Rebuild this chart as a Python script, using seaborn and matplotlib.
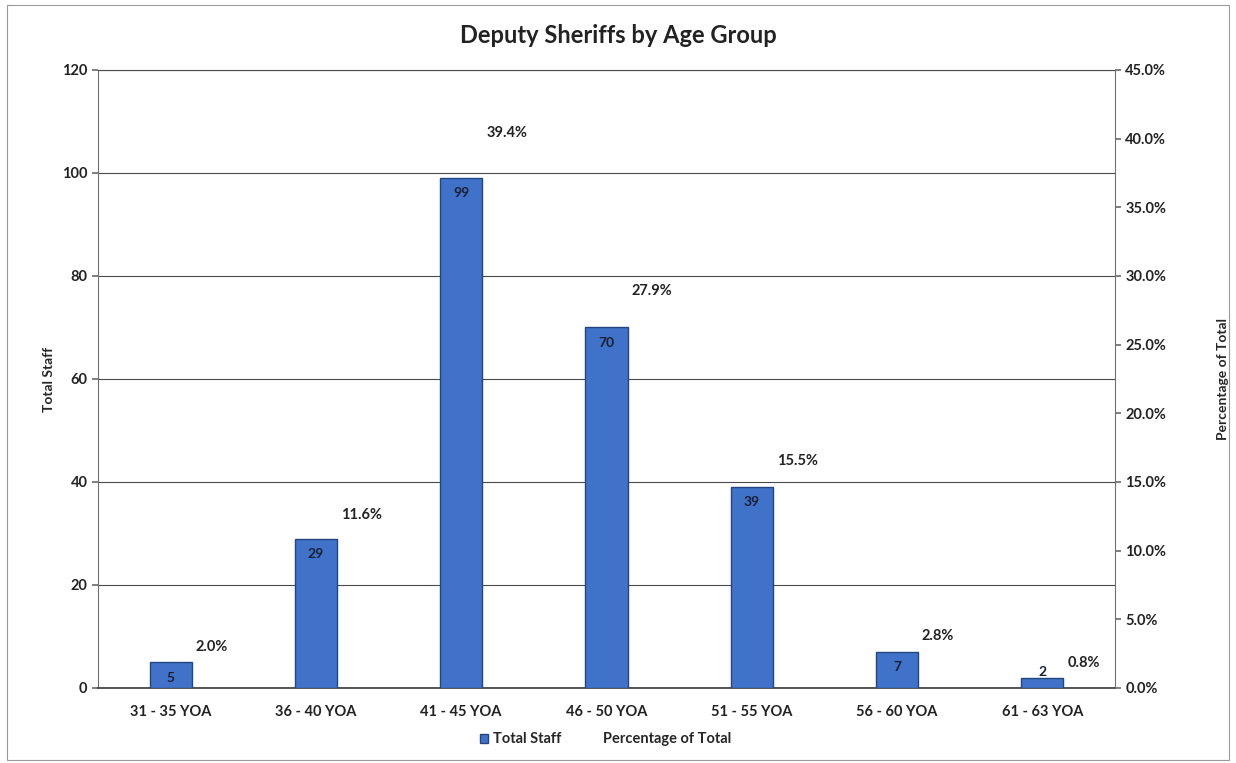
import seaborn as sns
import matplotlib.pyplot as plt
import pandas as pd
from matplotlib.patches import Rectangle, Patch
from matplotlib.lines import Line2D
from matplotlib.ticker import PercentFormatter

age_groups = ["31 - 35 YOA", "36 - 40 YOA", "41 - 45 YOA", "46 - 50 YOA",
              "51 - 55 YOA", "56 - 60 YOA", "61 - 63 YOA"]
total_staff = [5, 29, 99, 70, 39, 7, 2]
pct_total = [2.0, 11.6, 39.4, 27.9, 15.5, 2.8, 0.8]

df = pd.DataFrame({"group": age_groups, "staff": total_staff, "pct": pct_total})

sns.set_theme(style="white")
plt.rcParams["font.family"] = ["Lato", "DejaVu Sans"]

fig = plt.figure(figsize=(12.36, 7.63), dpi=100)
ax = fig.add_axes([0.0793, 0.0983, 0.8227, 0.81])

bar_col = "#3f72c8"
sns.barplot(data=df, x="group", y="staff", color=bar_col, width=0.29,
            edgecolor="#24467f", linewidth=1.0, saturation=1, ax=ax, zorder=3)

ax.set_ylim(0, 120)
ax.set_yticks(range(0, 121, 20))
ax.set_xlim(-0.5, len(age_groups) - 0.5)
ax.yaxis.grid(True, color="#4a4a4a", linewidth=0.8)
ax.set_axisbelow(True)
for s in ["left", "right", "top"]:
    ax.spines[s].set_color("#707070")
    ax.spines[s].set_linewidth(0.8)
ax.spines["top"].set_color("#4a4a4a")
ax.spines["bottom"].set_color("#404040")
ax.tick_params(axis="y", left=True, length=4, color="#707070", labelsize=10.5)
ax.tick_params(axis="x", bottom=False, labelsize=10.5, pad=6)
for t in ax.get_xticklabels() + ax.get_yticklabels():
    t.set_fontweight("bold")
    t.set_color("#222222")
ax.set_xlabel("")
ax.set_ylabel("Total Staff", fontsize=10, fontweight="bold")
ax.yaxis.set_label_coords(-0.042, 0.5)

# bar value labels
for i, v in enumerate(total_staff):
    if v < 4:
        ax.annotate(str(v), (i, v), xytext=(0, 0), textcoords="offset points",
                    ha="center", va="bottom", fontsize=10, fontweight="bold",
                    color="#1a1f33", zorder=5)
    else:
        ax.annotate(str(v), (i, v), xytext=(0, -11), textcoords="offset points",
                    ha="center", va="center", fontsize=10, fontweight="bold",
                    color="#1a1f33", zorder=5)

# percentage series (invisible line with labels)
ax2 = ax.twinx()
sns.lineplot(x=list(range(len(age_groups))), y=pct_total, ax=ax2, alpha=0)
ax2.set_ylim(0, 45)
ax2.set_yticks(range(0, 46, 5))
ax2.yaxis.set_major_formatter(PercentFormatter(decimals=1))
ax2.tick_params(axis="y", right=True, length=4, color="#707070", labelsize=10.5)
for t in ax2.get_yticklabels():
    t.set_fontweight("bold")
    t.set_color("#222222")
ax2.set_ylabel("Percentage of Total", fontsize=10, fontweight="bold")
ax2.yaxis.set_label_coords(1.1, 0.5)
for s in ax2.spines.values():
    s.set_visible(False)
if ax2.get_legend():
    ax2.get_legend().remove()
for i, p in enumerate(pct_total):
    ax2.annotate(f"{p:.1f}%", (i, p), xytext=(18, 5), textcoords="offset points",
                 ha="left", va="bottom", fontsize=10.5, fontweight="bold",
                 color="#222222")

fig.suptitle("Deputy Sheriffs by Age Group", y=0.968, fontsize=17,
             fontweight="bold", color="#222222")

handles = [Patch(facecolor=bar_col, edgecolor="#24467f"),
           Line2D([], [], linestyle="none")]
leg = fig.legend(handles, ["Total Staff", "Percentage of Total"], loc="center",
                 bbox_to_anchor=(0.49, 0.031), ncol=2, frameon=False,
                 handlelength=0.6, handleheight=0.6, handletextpad=0.3,
                 columnspacing=2.0, prop={"weight": "bold", "size": 10.5})

fig.add_artist(Rectangle((0.006, 0.004), 0.988, 0.99, transform=fig.transFigure,
                         fill=False, edgecolor="#9a9a9a", linewidth=0.8))

fig.savefig("out.png", dpi=100)
